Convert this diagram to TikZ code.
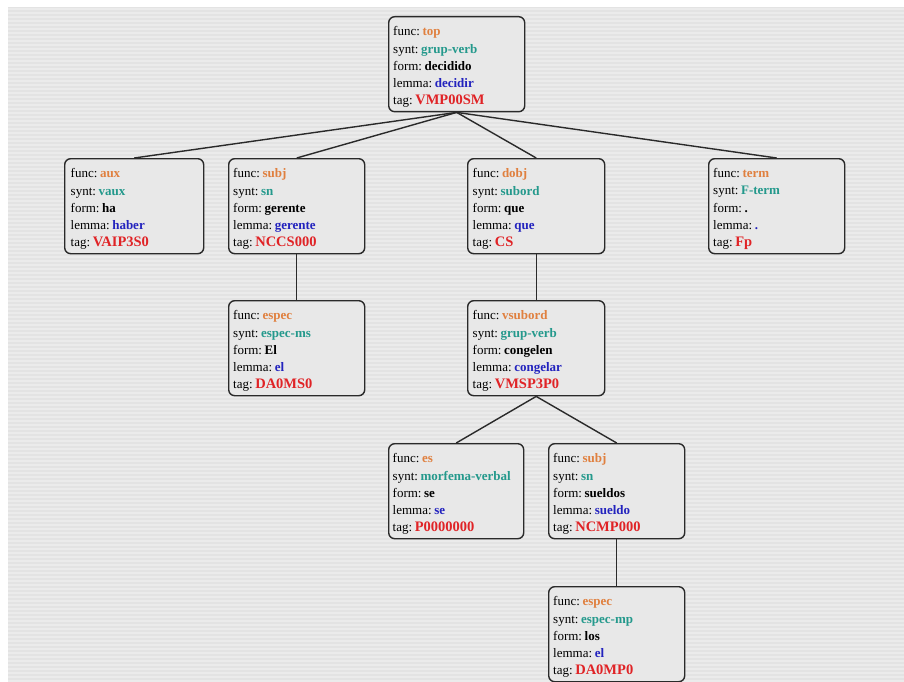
\documentclass[tikz,border=0pt]{standalone}
\usepackage{fontspec}
\setmainfont{Liberation Serif}
\frenchspacing
\definecolor{bgcol}{HTML}{E3E3E3}
\definecolor{stripe}{HTML}{EBEBEB}
\definecolor{boxfill}{HTML}{E8E8E8}
\definecolor{cfunc}{HTML}{E0803F}
\definecolor{csynt}{HTML}{24998C}
\definecolor{clemma}{HTML}{2323BE}
\definecolor{ctag}{HTML}{E02326}
\definecolor{linecol}{HTML}{2A2A2A}
\newcommand{\sep}{\hspace{2.6pt}}
\newcommand{\cardtext}[5]{\rule{0pt}{15pt}func:\sep\textcolor{cfunc}{\bfseries #1}\\
synt:\sep\textcolor{csynt}{\bfseries #2}\\
form:\sep\textbf{#3}\\
lemma:\sep\textcolor{clemma}{\bfseries #4}\\
tag:\sep\textcolor{ctag}{\fontsize{14.5}{17.2}\selectfont\bfseries #5}}
\tikzset{
  card/.style={draw=linecol, line width=1.4pt, rounded corners=6pt, fill=boxfill,
    minimum width=136pt, minimum height=95pt, text width=127pt, align=left,
    inner sep=0pt, font=\fontsize{13}{17.2}\selectfont, anchor=north west},
  link/.style={draw=linecol, line width=1.4pt}
}
\begin{document}
\begin{tikzpicture}[x=1pt,y=-1pt]
\useasboundingbox (0,0) rectangle (904,682);
\fill[white] (0,0) rectangle (904,682);
\fill[bgcol] (8,7) rectangle (904,682);
\foreach \y in {9,13,...,681} \draw[stripe, line width=1.6pt] (8,\y) -- (904,\y);
\node[card] (top) at (388,16) {\cardtext{top}{grup-verb}{decidido}{decidir}{VMP00SM}};
\node[card, minimum width=139pt] (aux) at (64,158) {\cardtext{aux}{vaux}{ha}{haber}{VAIP3S0}};
\node[card] (subj) at (228,158) {\cardtext{subj}{sn}{gerente}{gerente}{NCCS000}};
\node[card, minimum width=137pt] (dobj) at (467,158) {\cardtext{dobj}{subord}{que}{que}{CS}};
\node[card] (term) at (708,158) {\cardtext{term}{F-term}{.}{.}{Fp}};
\node[card] (espec1) at (228,300) {\cardtext{espec}{espec-ms}{El}{el}{DA0MS0}};
\node[card, minimum width=137pt] (vsub) at (467,300) {\cardtext{vsubord}{grup-verb}{congelen}{congelar}{VMSP3P0}};
\node[card, minimum width=135pt] (es) at (388,443) {\cardtext{es}{morfema-verbal}{se}{se}{P0000000}};
\node[card] (subj2) at (548,443) {\cardtext{subj}{sn}{sueldos}{sueldo}{NCMP000}};
\node[card] (espec2) at (548,586) {\cardtext{espec}{espec-mp}{los}{el}{DA0MP0}};
\draw[link] (top.south) -- (aux.north);
\draw[link] (top.south) -- (subj.north);
\draw[link] (top.south) -- (dobj.north);
\draw[link] (top.south) -- (term.north);
\draw[link] (subj.south) -- (espec1.north);
\draw[link] (dobj.south) -- (vsub.north);
\draw[link] (vsub.south) -- (es.north);
\draw[link] (vsub.south) -- (subj2.north);
\draw[link] (subj2.south) -- (espec2.north);
\end{tikzpicture}
\end{document}
